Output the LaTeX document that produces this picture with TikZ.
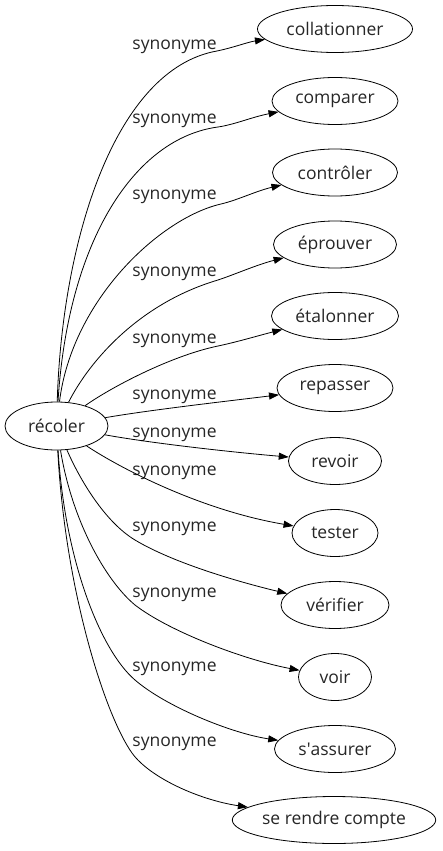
\documentclass[tikz,border=0pt]{standalone}
\usepackage{fontspec}
\setmainfont{Open Sans}
\usetikzlibrary{arrows.meta,shapes.geometric}
\begin{document}
\begin{tikzpicture}[x=1pt,y=-1pt,
  word/.style={draw, ellipse, line width=0.8pt, inner sep=0pt, minimum height=47pt, font=\fontsize{17.5}{20}\selectfont, text=black!85},
  lab/.style={font=\fontsize{17.5}{20}\selectfont, text=black!85, inner sep=0pt, anchor=base},
  edge/.style={line width=0.8pt, -{Triangle[length=10pt,width=7pt]}}]
\useasboundingbox (0,0) rectangle (443,851);
\node[word, minimum width=103pt, minimum height=48pt] (rec) at (56.5,426) {récoler};
\node[word, minimum width=155pt] (n1) at (335,29) {collationner};
\node[word, minimum width=126pt] (n2) at (335,101) {comparer};
\node[word, minimum width=125pt] (n3) at (335,172.5) {contrôler};
\node[word, minimum width=123pt] (n4) at (335,244.5) {éprouver};
\node[word, minimum width=127pt] (n5) at (335,316) {étalonner};
\node[word, minimum width=116pt] (n6) at (335,388) {repasser};
\node[word, minimum width=93pt] (n7) at (335,461) {revoir};
\node[word, minimum width=86pt] (n8) at (335,533) {tester};
\node[word, minimum width=108pt] (n9) at (335,605) {vérifier};
\node[word, minimum width=73pt] (n10) at (335,677) {voir};
\node[word, minimum width=121pt] (n11) at (335,749) {s\textquotesingle assurer};
\node[word, minimum width=201pt] (n12) at (334,820) {se rendre compte};

\node[lab] (l1) at (174.5,49.5) {synonyme};
\node[lab] (l2) at (174.5,123.5) {synonyme};
\node[lab] (l3) at (174.5,199.5) {synonyme};
\node[lab] (l4) at (174.5,276.5) {synonyme};
\node[lab] (l5) at (174.5,343.5) {synonyme};
\node[lab] (l6) at (174.5,399.5) {synonyme};
\node[lab] (l7) at (174.5,437.5) {synonyme};
\node[lab] (l8) at (174.5,475.5) {synonyme};
\node[lab] (l9) at (174.5,531.5) {synonyme};
\node[lab] (l10) at (174.5,597.5) {synonyme};
\node[lab] (l11) at (174.5,671.5) {synonyme};
\node[lab] (l12) at (174.5,746.5) {synonyme};

\draw[edge] (rec) .. controls (62,240) and (115,69) .. (217,51) .. controls (232,48) and (248,42) .. (n1);
\draw[edge] (rec) .. controls (68,240) and (135,138) .. (218,127) .. controls (235,124.5) and (252,117) .. (n2);
\draw[edge] (rec) .. controls (72,300) and (160,218) .. (221,204) .. controls (238,200) and (256,191) .. (n3);
\draw[edge] (rec) .. controls (90,360) and (140,303) .. (218,280) .. controls (236,274) and (256,265) .. (n4);
\draw[edge] (rec) .. controls (110,388) and (170,356) .. (218,346) .. controls (237,342) and (257,336) .. (n5);
\draw[edge] (rec) .. controls (150,410) and (220,402) .. (n6);
\draw[edge] (rec) .. controls (150,443) and (230,452) .. (n7);
\draw[edge] (rec) .. controls (120,468) and (200,510) .. (n8);
\draw[edge] (rec) .. controls (80,480) and (105,522) .. (135,540) .. controls (175,564) and (243,583) .. (n9);
\draw[edge] (rec) .. controls (72,520) and (105,580) .. (135,605) .. controls (170,632) and (245,660) .. (n10);
\draw[edge] (rec) .. controls (65,560) and (100,650) .. (135,680) .. controls (165,706) and (230,733) .. (n11);
\draw[edge] (rec) .. controls (65,590) and (105,715) .. (132,753) .. controls (150,778) and (200,800) .. (n12);
\end{tikzpicture}
\end{document}
